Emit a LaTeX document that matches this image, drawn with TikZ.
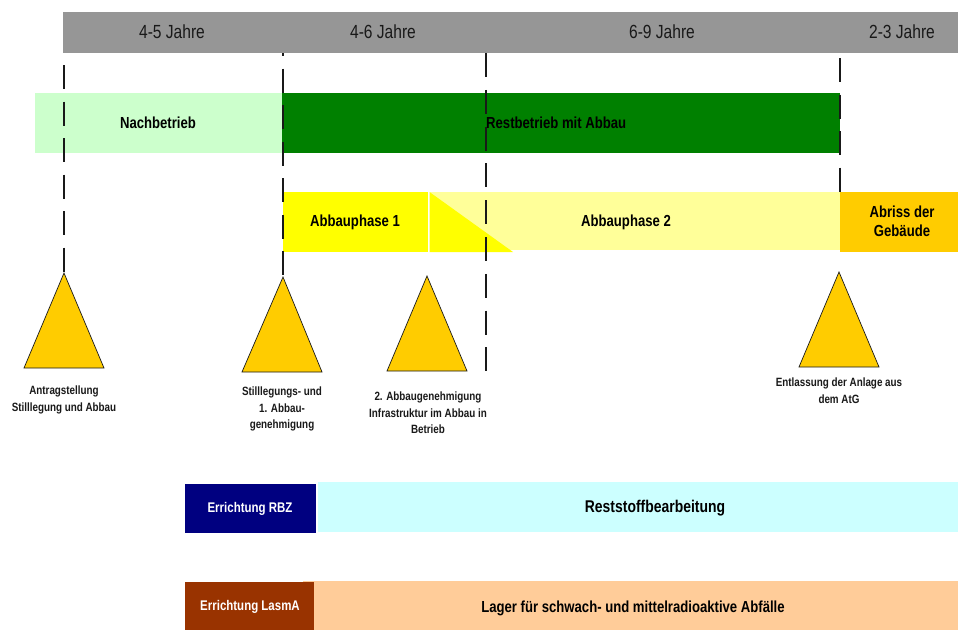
\documentclass[tikz,border=0pt]{standalone}
\usepackage{fontspec}
\setmainfont{Liberation Sans}[FakeStretch=0.82]
\definecolor{hdrgray}{RGB}{150,150,150}
\definecolor{paleGreen}{RGB}{204,255,204}
\definecolor{darkGreen}{RGB}{0,128,0}
\definecolor{brightYellow}{RGB}{255,255,0}
\definecolor{paleYellow}{RGB}{255,255,153}
\definecolor{gold}{RGB}{255,204,0}
\definecolor{navy}{RGB}{0,0,128}
\definecolor{paleCyan}{RGB}{204,255,255}
\definecolor{brick}{RGB}{153,51,0}
\definecolor{peach}{RGB}{255,204,153}
\tikzset{
  hdr/.style={font=\fontsize{19}{22}\selectfont, anchor=base, inner sep=0pt, text=black!90},
  lbl/.style={font=\bfseries\fontsize{16}{19}\selectfont, anchor=base, inner sep=0pt},
  ms/.style={font=\bfseries\fontsize{12}{16.5}\selectfont, align=center, anchor=north, inner sep=0pt, text=black!90},
  wlbl/.style={font=\bfseries\fontsize{14}{16}\selectfont, anchor=base, inner sep=0pt, text=white},
  tri/.style={fill=gold, draw=black!90, line width=0.7pt, line join=miter},
  guide/.style={line width=1.2pt, dash pattern=on 24pt off 12.5pt, draw=black!90}
}
\begin{document}
\begin{tikzpicture}[x=1pt,y=-1pt]
\useasboundingbox (0,0) rectangle (958,630);
\fill[white] (0,0) rectangle (958,630);

% header
\fill[hdrgray] (63,12) rectangle (958,53);
\node[hdr] (h1) at (172,38) {4-5 Jahre};
\node[hdr] (h2) at (383,38) {4-6 Jahre};
\node[hdr] (h3) at (662,38) {6-9 Jahre};
\node[hdr] (h4) at (902,38) {2-3 Jahre};

% operating phases
\fill[paleGreen] (35,93) rectangle (282,153);
\fill[darkGreen] (282,93) rectangle (840,153);

% dismantling phases
\fill[paleYellow] (429.5,192) rectangle (840,250);
\fill[brightYellow] (283,192) rectangle (428,252);
\fill[brightYellow] (429.5,192) -- (429.5,252) -- (513,252) -- cycle;
\fill[gold] (840,192) rectangle (958,252);

% guide lines
\coordinate (g1) at (64,65);
\coordinate (g2) at (283,53);
\coordinate (g3) at (486,53);
\coordinate (g4) at (840,58);
\coordinate (a1) at (64,273);
\coordinate (a2) at (283,277);
\coordinate (e3) at (486,373);
\coordinate (e4) at (840,192);
\draw[guide] (g1) -- (a1);
\draw[guide, dash phase=21pt] (g2) -- (a2);
\draw[guide, dash pattern=on 24pt off 12.8pt] (g3) -- (e3);
\draw[guide] (g4) -- (e4);

% bar texts
\node[lbl] (nach) at (158,128) {Nachbetrieb};
\node[lbl, anchor=base west] (rest) at (486,128) {Restbetrieb mit Abbau};
\node[lbl] (ap1) at (355,226) {Abbauphase 1};
\node[lbl] (ap2) at (626,226) {Abbauphase 2};
\node[lbl, align=center, anchor=north, font=\bfseries\fontsize{16}{19}\selectfont] (abr) at (902,206) {Abriss der\\Gebäude};

% milestones
\coordinate (a3) at (427,276);
\coordinate (a4) at (839,272);
\draw[tri] (a1) -- (24,368) -- (104,368) -- cycle;
\draw[tri] (a2) -- (242,372) -- (322,372) -- cycle;
\draw[tri] (a3) -- (387,371) -- (467,371) -- cycle;
\draw[tri] (a4) -- (799,367) -- (879,367) -- cycle;
\node[ms] (m1) at (64,386) {Antragstellung\\Stilllegung und Abbau};
\node[ms] (m2) at (282,387) {Stilllegungs- und\\1. Abbau-\\genehmigung};
\node[ms] (m3) at (428,392) {2. Abbaugenehmigung\\Infrastruktur im Abbau in\\Betrieb};
\node[ms] (m4) at (839,378) {Entlassung der Anlage aus\\dem AtG};

% bottom bars
\fill[paleCyan] (318,482) rectangle (958,532);
\fill[navy] (185,484) rectangle (316,533);
\node[wlbl] (rbz) at (250,512) {Errichtung RBZ};
\node[lbl, font=\bfseries\fontsize{17}{20}\selectfont] (rsb) at (655,512) {Reststoffbearbeitung};

\fill[peach] (303,581) rectangle (958,630);
\fill[brick] (185,582) rectangle (314,630);
\node[wlbl] (lasma) at (250,610) {Errichtung LasmA};
\node[lbl] (lager) at (633,612) {Lager für schwach- und mittelradioaktive Abfälle};
\end{tikzpicture}
\end{document}
